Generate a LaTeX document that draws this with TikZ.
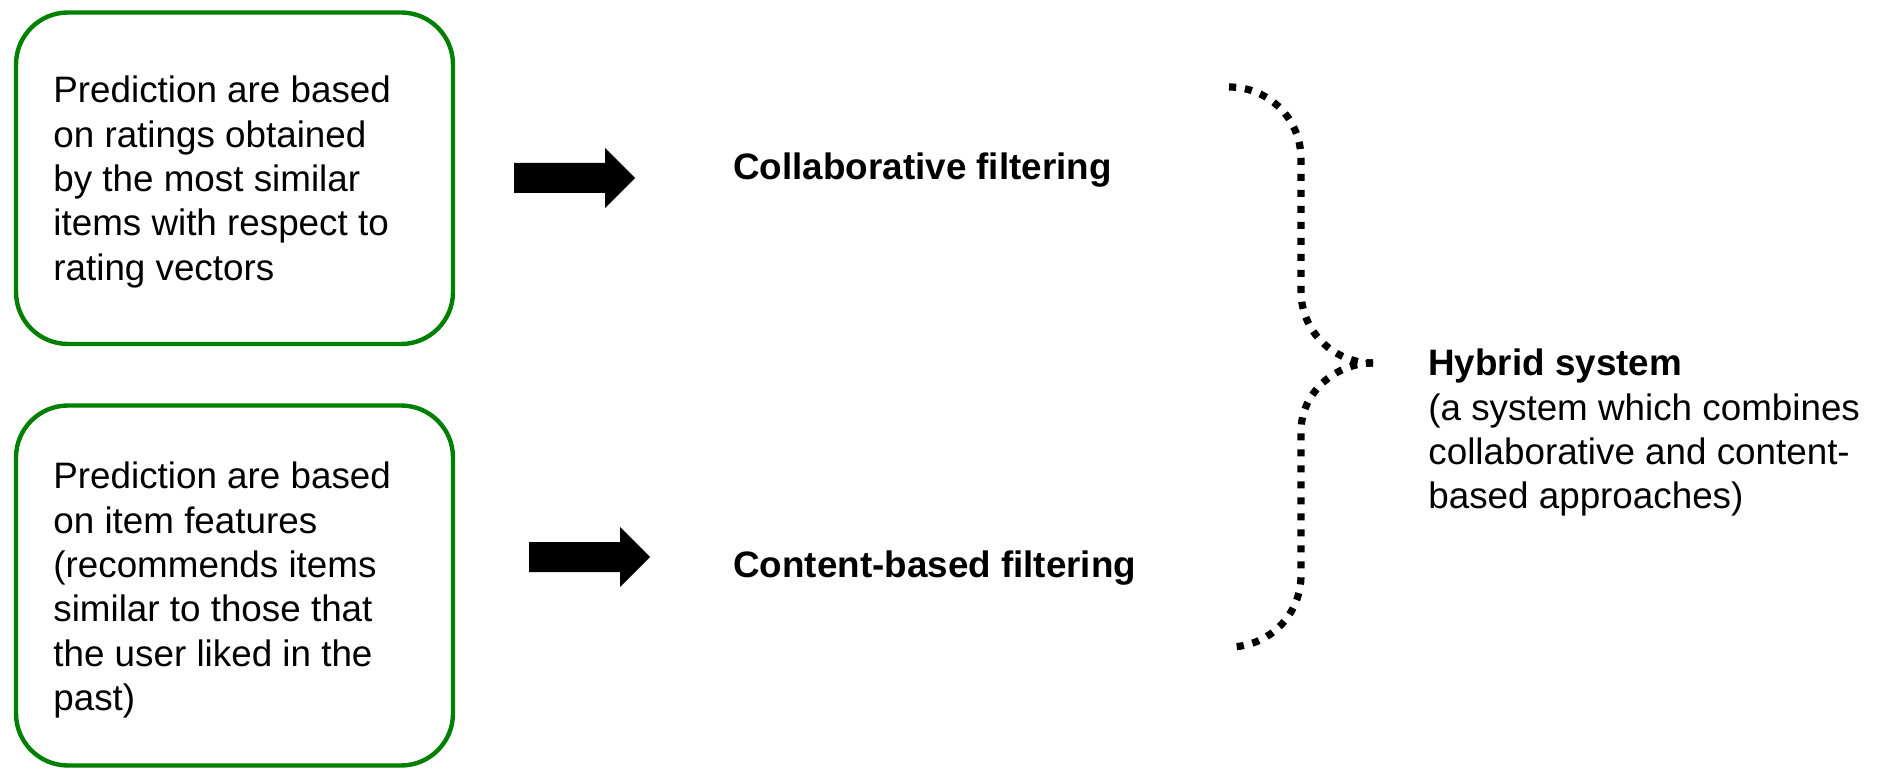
\documentclass[tikz,border=0pt]{standalone}
\usepackage{fontspec}
\setmainfont{Liberation Sans}
\definecolor{boxgreen}{RGB}{0,128,0}
\begin{document}
\begin{tikzpicture}[x=0.5pt,y=-0.5pt,
  greenbox/.style={draw=boxgreen, line width=2.2pt, rounded corners=26pt, inner sep=0pt, minimum width=218.5pt},
  bodytext/.style={inner sep=0pt, align=left, font=\fontsize{18.4}{22.2}\selectfont},
  dotbrace/.style={line width=3.6pt, dash pattern=on 3.6pt off 4.4pt},
  blockarrow/.pic={\fill[black] (0,-15) -- (91,-15) -- (91,-30) -- (121,0) -- (91,30) -- (91,15) -- (0,15) -- cycle;}
]
\useasboundingbox (0,0) rectangle (1878,770);

% left boxes
\node[greenbox, minimum height=165.75pt] (boxA) at (234.5,178.25) {};
\node[greenbox, minimum height=180pt] (boxB) at (234.5,585.5) {};

\node[bodytext, anchor=north west] (txtA) at (53,75.7)
  {Prediction are based\\on ratings obtained\\by the most similar\\items with respect to\\rating vectors};
\node[bodytext, anchor=north west] (txtB) at (53,461.7)
  {Prediction are based\\on item features\\(recommends items\\similar to those that\\the user liked in the\\past)};

% block arrows
\pic (arrA) at (514,178) {blockarrow};
\pic (arrB) at (529,557) {blockarrow};

% method labels
\node[bodytext, anchor=base west, font=\fontsize{18.4}{22.2}\selectfont\bfseries] (collab) at (733,180) {Collaborative filtering};
\node[bodytext, anchor=base west, font=\fontsize{18.4}{22.2}\selectfont\bfseries] (content) at (733,577) {Content-based filtering};

% dotted brace
\coordinate (brTop) at (1229,87);
\coordinate (brTip) at (1373,363);
\coordinate (brBot) at (1229,647);
\draw[dotbrace] (brTop) .. controls (1269,87) and (1301,119) .. (1301,159)
   -- (1301,291) .. controls (1301,331) and (1333,363) .. (brTip);
\draw[dotbrace] (brTip) .. controls (1335,363) and (1301,393) .. (1301,431)
   -- (1301,575) .. controls (1301,615) and (1269,647) .. (brBot);

% hybrid text
\node[bodytext, anchor=north west] (hybrid) at (1428,348.7)
  {\textbf{Hybrid system}\\(a system which combines\\collaborative and content-\\based approaches)};
\end{tikzpicture}
\end{document}
